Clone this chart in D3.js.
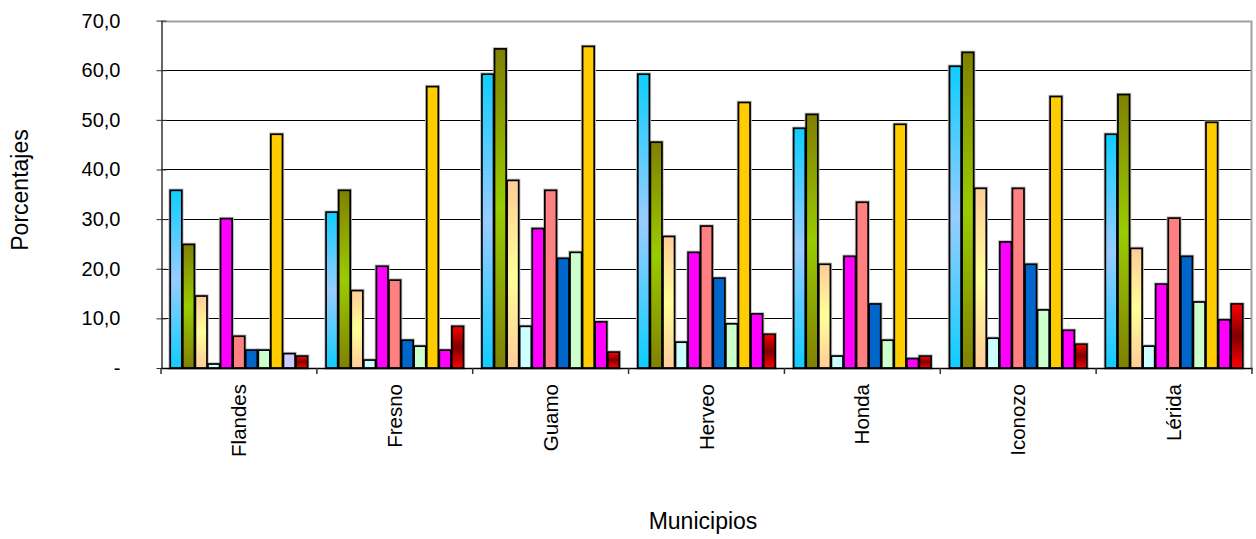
<!DOCTYPE html>
<html>
<head>
<meta charset="utf-8">
<script src="https://cdn.jsdelivr.net/npm/d3@7"></script>
<style>
  html, body { margin: 0; padding: 0; background: #fff; }
  svg { display: block; font-family: "Liberation Sans", Arial, sans-serif; }
</style>
</head>
<body>
<svg id="chart" width="1256" height="539"></svg>
<script>
// ---- data ----
const municipios = ["Flandes", "Fresno", "Guamo", "Herveo", "Honda", "Iconozo", "Lérida"];
const s1  = [35.8, 31.4, 59.2, 59.2, 48.3, 60.8, 47.1];
const s2  = [24.9, 35.8, 64.3, 45.5, 51.1, 63.6, 55.1];
const s3  = [14.5, 15.6, 37.8, 26.5, 20.9, 36.2, 24.1];
const s4  = [0.8, 1.6, 8.4, 5.2, 2.4, 6.0, 4.4];
const s5  = [30.1, 20.5, 28.1, 23.3, 22.5, 25.4, 16.9];
const s6  = [6.4, 17.7, 35.8, 28.6, 33.4, 36.2, 30.2];
const s7  = [3.6, 5.6, 22.1, 18.1, 12.9, 20.9, 22.5];
const s8  = [3.6, 4.4, 23.3, 8.9, 5.6, 11.7, 13.3];
const s9  = [47.1, 56.7, 64.8, 53.5, 49.1, 54.7, 49.5];
const s10 = [2.9, 3.6, 9.3, 10.9, 1.9, 7.6, 9.7];
const s11 = [2.4, 8.4, 3.2, 6.8, 2.4, 4.8, 12.9];
const seriesValues = [s1, s2, s3, s4, s5, s6, s7, s8, s9, s10, s11];
const yTicks = [0, 10, 20, 30, 40, 50, 60, 70];
const yTickLabels = ["-", "10,0", "20,0", "30,0", "40,0", "50,0", "60,0", "70,0"];

// ---- styles ----
const fills = [
  {grad: ["#0fcdff", "#99ccff", "#0fcdff"]},
  {grad: ["#808000", "#99cc00", "#808000"]},
  {grad: ["#ffcc99", "#ffff99", "#ffcc99"]},
  {solid: "#ccffff"},
  {solid: "#ff00ff"},
  {solid: "#ff8080"},
  {solid: "#0066cc"},
  {solid: "#ccffcc"},
  {solid: "#ffcc00"},
  {solid: "#ff00ff"},
  {grad: ["#ff0000", "#800000", "#ff0000"]}
];
// point-level override (Flandes, series 10)
const overrides = {"0-9": "#ccccff"};

const svg = d3.select("#chart");
const margin = {left: 161, right: 4, top: 20.6, bottom: 171};
const W = 1256, H = 539;
const x0 = margin.left, x1 = W - margin.right;
const yTop = margin.top, yBot = H - margin.bottom;

const defs = svg.append("defs");
fills.forEach((f, i) => {
  if (f.grad) {
    const g = defs.append("linearGradient").attr("id", "g" + i)
      .attr("x1", 0).attr("y1", 0).attr("x2", 0).attr("y2", 1);
    g.append("stop").attr("offset", "0%").attr("stop-color", f.grad[0]);
    g.append("stop").attr("offset", "50%").attr("stop-color", f.grad[1]);
    g.append("stop").attr("offset", "100%").attr("stop-color", f.grad[2]);
  }
});

const x = d3.scaleBand().domain(municipios).range([x0, x1]).paddingInner(0.112).paddingOuter(0.056);
const xs = d3.scaleBand().domain(d3.range(seriesValues.length)).range([0, x.bandwidth()]).padding(0);
const y = d3.scaleLinear().domain([0, 70]).range([yBot, yTop]);

// gridlines
svg.append("g").selectAll("line").data(yTicks.filter(t => t > 0 && t < 70)).join("line")
  .attr("x1", x0).attr("x2", x1)
  .attr("y1", d => Math.round(y(d)) + 0.5).attr("y2", d => Math.round(y(d)) + 0.5)
  .attr("stroke", "#000").attr("stroke-width", 1);

// plot border top/right (gray)
svg.append("path")
  .attr("d", `M${x0},${Math.round(yTop) + 0.5}H${x1 - 0.5}V${yBot}`)
  .attr("fill", "none").attr("stroke", "#a0a0a0").attr("stroke-width", 2);

// bars
const data = [];
municipios.forEach((m, ci) => {
  seriesValues.forEach((arr, si) => data.push({m, ci, si, v: arr[ci]}));
});
const fillOf = d => overrides[d.ci + "-" + d.si] || (fills[d.si].grad ? `url(#g${d.si})` : fills[d.si].solid);

const bars = svg.append("g");
// soft halo
bars.selectAll("rect.sh").data(data).join("rect").attr("class", "sh")
  .attr("x", d => x(d.m) + xs(d.si) + 0.5)
  .attr("y", d => y(d.v))
  .attr("width", xs.bandwidth() - 1)
  .attr("height", d => yBot - y(d.v))
  .attr("fill", "none").attr("stroke", "#bdbdbd").attr("stroke-width", 3.5);
bars.selectAll("rect.b").data(data).join("rect").attr("class", "b")
  .attr("x", d => x(d.m) + xs(d.si) + 0.5)
  .attr("y", d => y(d.v))
  .attr("width", xs.bandwidth() - 1)
  .attr("height", d => yBot - y(d.v))
  .attr("fill", fillOf)
  .attr("stroke", "#000").attr("stroke-width", 1.7);

// y axis
const yAxis = d3.axisLeft(y).tickValues(yTicks).tickFormat((d, i) => yTickLabels[i]).tickSizeInner(5).tickSizeOuter(0).tickPadding(36);
const ya = svg.append("g").attr("transform", `translate(${x0 + 0.5},0)`).call(yAxis);
ya.select(".domain").attr("stroke", "#333").attr("stroke-width", 1.5);
ya.selectAll(".tick line").attr("x2", 5).attr("x1", -5).attr("stroke", "#333");
ya.selectAll(".tick text").attr("font-size", 20).attr("fill", "#000")
  .attr("font-family", "Liberation Sans, Arial, sans-serif");

// x axis
const xAxis = d3.axisBottom(x).tickSizeInner(0).tickSizeOuter(0).tickFormat("");
const xa = svg.append("g").attr("transform", `translate(0,${yBot})`).call(xAxis);
xa.select(".domain").attr("stroke", "#000").attr("stroke-width", 1.5);
xa.selectAll(".tick").remove();
// category separator ticks
const sepX = municipios.map(m => x(m) - x.step() * x.paddingInner() / 2).concat([x1]);
xa.selectAll("line.sep").data(sepX).join("line").attr("class", "sep")
  .attr("x1", d => d).attr("x2", d => d).attr("y1", 0).attr("y2", 6)
  .attr("stroke", "#333").attr("stroke-width", 1.5);
// labels
svg.append("g").selectAll("text").data(municipios).join("text")
  .attr("transform", d => `translate(${x(d) + x.bandwidth() / 2 + 7},${yBot + 16}) rotate(-90)`)
  .attr("text-anchor", "end")
  .attr("font-size", 20.5).attr("fill", "#000")
  .text(d => d);

// axis titles
svg.append("text").attr("x", 703).attr("y", 529).attr("text-anchor", "middle")
  .attr("font-size", 23).attr("fill", "#000").text("Municipios");
svg.append("text").attr("transform", `translate(28,190) rotate(-90)`).attr("text-anchor", "middle")
  .attr("font-size", 23).attr("fill", "#000").text("Porcentajes");
</script>
</body>
</html>
